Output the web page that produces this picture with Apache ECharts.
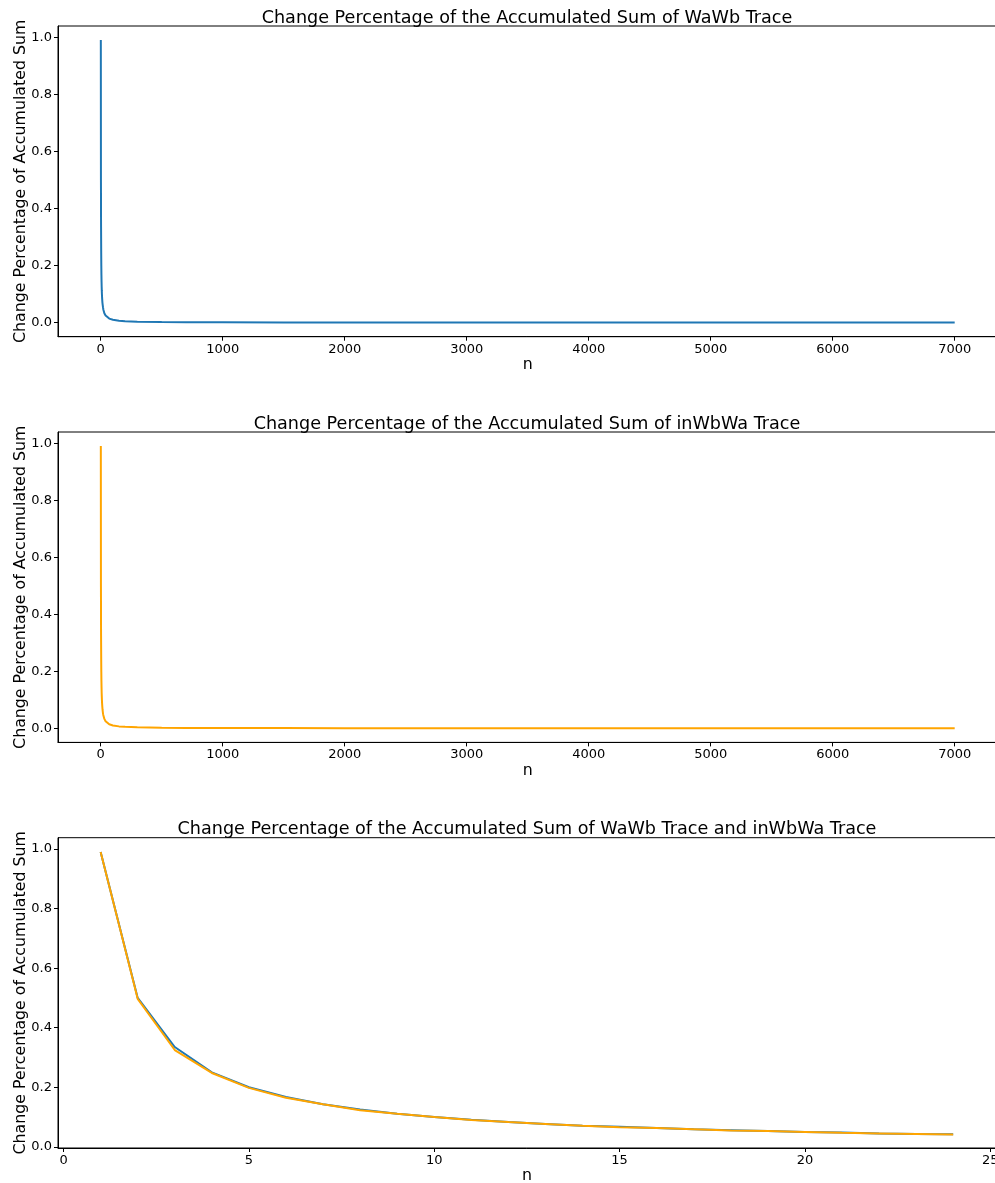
<!DOCTYPE html>
<html>
<head>
<meta charset="utf-8">
<script src="https://cdn.jsdelivr.net/npm/echarts@6/dist/echarts.min.js"></script>
<style>
html,body{margin:0;padding:0;background:#fff;}
#chart{width:995px;height:1183px;}
</style>
</head>
<body>
<div id="chart"></div>
<script>
// ---- data ----
const titles = [
  'Change Percentage of the Accumulated Sum of WaWb Trace',
  'Change Percentage of the Accumulated Sum of inWbWa Trace',
  'Change Percentage of the Accumulated Sum of WaWb Trace and inWbWa Trace'
];
const yLabel = 'Change Percentage of Accumulated Sum';
const xLabel = 'n';

// first 24 steps (n = 1..24)
const headN = [1,2,3,4,5,6,7,8,9,10,11,12,13,14,15,16,17,18,19,20,21,22,23,24];
const wawbHead = [0.99,0.50,0.335,0.25,0.20,0.167,0.143,0.125,0.111,0.100,0.091,0.083,0.077,0.071,0.067,0.063,0.059,0.056,0.053,0.050,0.048,0.045,0.043,0.042];
const inwbwaHead = [0.99,0.497,0.325,0.248,0.198,0.165,0.143,0.123,0.111,0.100,0.090,0.083,0.077,0.071,0.066,0.063,0.059,0.055,0.053,0.050,0.047,0.045,0.043,0.041];

// later steps (sampled along the long curves)
const tailN = [30,40,50,70,100,150,200,300,500,700,1000,1500,2000,3000,4000,5000,6000,7000];
const wawbTail = [0.033,0.025,0.020,0.014,0.010,0.0067,0.005,0.0033,0.002,0.0014,0.001,0.0007,0.0005,0.00033,0.00025,0.0002,0.00017,0.00014];
const inwbwaTail = [0.033,0.025,0.020,0.014,0.010,0.0067,0.005,0.0033,0.002,0.0014,0.001,0.0007,0.0005,0.00033,0.00025,0.0002,0.00017,0.00014];

const xTicksLong = [0,1000,2000,3000,4000,5000,6000,7000];
const xTicksShort = [0,5,10,15,20,25];
const yTicks = [0,0.2,0.4,0.6,0.8,1.0];

// ---- build ----
function pairs(ns, vs){ return ns.map((n,i)=>[n, vs[i]]); }
const wawbFull = pairs(headN, wawbHead).concat(pairs(tailN, wawbTail));
const inwbwaFull = pairs(headN, inwbwaHead).concat(pairs(tailN, inwbwaTail));
const wawbShort = pairs(headN, wawbHead);
const inwbwaShort = pairs(headN, inwbwaHead);

const FONT = 'DejaVu Sans';
const BLUE = '#1f77b4', ORANGE = '#ffa500';
const tops = [26, 432, 837.7];
const heights = [310.7, 310.4, 310.3];
const widths = [939.4, 939.4, 937.8];
const LEFT = 58;

const chart = echarts.init(document.getElementById('chart'), null, {renderer:'canvas'});

const grids = tops.map((t,i)=>({
  left: LEFT, top: t, width: widths[i], height: heights[i],
  show: true, borderColor: '#000', borderWidth: 1, backgroundColor: 'transparent',
  containLabel: false, outerBoundsMode: 'none'
}));

const titleOpts = titles.map((t,i)=>({
  text: t,
  left: 522, top: tops[i] - 22,
  textAlign: 'center',
  textStyle: {fontFamily: FONT, fontSize: 17.6, fontWeight: 'normal', color: '#000'}
}));

function xAxis(i, min, max, ticks){
  return {
    type: 'value', gridIndex: i, min: min, max: max,
    name: xLabel, nameLocation: 'middle', nameGap: 20, nameMoveOverlap: false,
    nameTextStyle: {fontFamily: FONT, fontSize: 15.8, color: '#000'},
    axisLine: {show: true, onZero: false, lineStyle: {color: '#000', width: 1}},
    axisTick: {show: true, length: 4, lineStyle: {color: '#000', width: 1}, customValues: ticks},
    axisLabel: {show: true, margin: 6, fontFamily: FONT, fontSize: 13, color: '#000', customValues: ticks,
      formatter: v => String(Math.round(v))},
    splitLine: {show: false}
  };
}
function yAxis(i, min, max){
  return {
    type: 'value', gridIndex: i, min: min, max: max,
    name: yLabel, nameLocation: 'middle', nameGap: 29, nameMoveOverlap: false,
    nameTextStyle: {fontFamily: FONT, fontSize: 15.8, color: '#000'},
    axisLine: {show: true, onZero: false, lineStyle: {color: '#000', width: 1}},
    axisTick: {show: true, length: 4, lineStyle: {color: '#000', width: 1}, customValues: yTicks},
    axisLabel: {show: true, margin: 6, fontFamily: FONT, fontSize: 13, color: '#000', customValues: yTicks,
      formatter: v => v.toFixed(1)},
    splitLine: {show: false}
  };
}

function line(xi, data, color){
  return {
    type: 'line', xAxisIndex: xi, yAxisIndex: xi, data: data,
    showSymbol: false, symbol: 'none', smooth: false,
    lineStyle: {color: color, width: 2}, itemStyle: {color: color},
    clip: true
  };
}

chart.setOption({
  animation: false,
  backgroundColor: '#fff',
  title: titleOpts,
  grid: grids,
  xAxis: [xAxis(0,-350,7350,xTicksLong), xAxis(1,-350,7350,xTicksLong), xAxis(2,-0.15,25.15,xTicksShort)],
  yAxis: [yAxis(0,-0.0495,1.0395), yAxis(1,-0.0495,1.0395), yAxis(2,-0.004,1.038)],
  series: [
    line(0, wawbFull, BLUE),
    line(1, inwbwaFull, ORANGE),
    line(2, wawbShort, BLUE),
    line(2, inwbwaShort, ORANGE)
  ]
});
</script>
</body>
</html>
